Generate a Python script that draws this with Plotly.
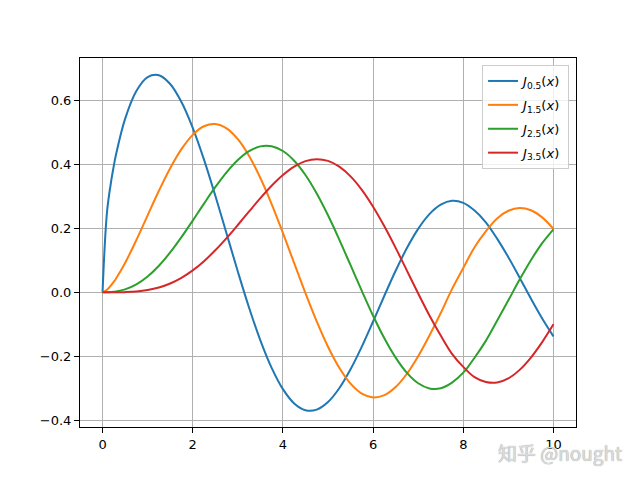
import plotly.graph_objects as go

x = [0, 0.1, 0.2, 0.25, 0.3, 0.5, 0.75, 1, 1.25, 1.5, 1.75, 2, 2.25, 2.5, 2.75, 3, 3.25, 3.5, 3.75, 4,
     4.25, 4.5, 4.75, 5, 5.25, 5.5, 5.75, 6, 6.25, 6.5, 6.75, 7, 7.25, 7.5, 7.75, 8, 8.25, 8.5, 8.75,
     9, 9.25, 9.5, 9.75, 10]

j05 = [0.0, 0.2518, 0.3545, 0.3948, 0.4305, 0.5410, 0.6280, 0.6714, 0.6772, 0.6498, 0.5935, 0.5130,
       0.4139, 0.3020, 0.1836, 0.0650, -0.0479, -0.1496, -0.2355, -0.3019, -0.3464, -0.3677, -0.3658,
       -0.3422, -0.2991, -0.2400, -0.1693, -0.0910, -0.0106, 0.0673, 0.1382, 0.1981, 0.2439, 0.2733,
       0.2854, 0.2791, 0.2551, 0.2185, 0.1675, 0.1096, 0.0456, -0.0195, -0.0815, -0.1373]
j15 = [0.0, 0.0084, 0.0237, 0.0330, 0.0433, 0.0917, 0.1632, 0.2403, 0.3168, 0.3871, 0.4466, 0.4913,
       0.5181, 0.5251, 0.5115, 0.4777, 0.4253, 0.3566, 0.2753, 0.1853, 0.0912, -0.0024, -0.0908,
       -0.1697, -0.2353, -0.2848, -0.3159, -0.3279, -0.3207, -0.2953, -0.2538, -0.1991, -0.1347,
       -0.0646, 0.0102, 0.0759, 0.1409, 0.1905, 0.2306, 0.2545, 0.2633, 0.2561, 0.2338, 0.1980]
j25 = [0.0, 0.0002, 0.0010, 0.0017, 0.0026, 0.0092, 0.0249, 0.0495, 0.0830, 0.1245, 0.1722, 0.2239,
       0.2769, 0.3281, 0.3744, 0.4127, 0.4404, 0.4553, 0.4557, 0.4409, 0.4107, 0.3661, 0.3085, 0.2404,
       0.1647, 0.0847, 0.0045, -0.0730, -0.1433, -0.2036, -0.2510, -0.2834, -0.2996, -0.2991, -0.2814,
       -0.2506, -0.2039, -0.1513, -0.0884, -0.0248, 0.0398, 0.1003, 0.1535, 0.1967]
j35 = [0.0, 0.0, 0.0, 0.0001, 0.0001, 0.0007, 0.0027, 0.0072, 0.0152, 0.0277, 0.0453, 0.0685, 0.0973,
       0.1311, 0.1692, 0.2101, 0.2523, 0.2938, 0.3324, 0.3658, 0.3921, 0.4092, 0.4155, 0.4100, 0.3921,
       0.3618, 0.3198, 0.2671, 0.2060, 0.1387, 0.0678, -0.0034, -0.0720, -0.1349, -0.1918, -0.2326,
       -0.2645, -0.2795, -0.2811, -0.2683, -0.2418, -0.2033, -0.1551, -0.0997]

names = ["<i>J</i><sub>0.5</sub>(<i>x</i>)", "<i>J</i><sub>1.5</sub>(<i>x</i>)",
         "<i>J</i><sub>2.5</sub>(<i>x</i>)", "<i>J</i><sub>3.5</sub>(<i>x</i>)"]
colors = ["#1f77b4", "#ff7f0e", "#2ca02c", "#d62728"]
series = [j05, j15, j25, j35]

fig = go.Figure()
for i, (ys, nm, col) in enumerate(zip(series, names, colors)):
    fig.add_trace(go.Scatter(x=x, y=ys, mode="lines", name=nm, legendgroup="g%d" % i,
                             line=dict(color=col, width=2, shape="spline", smoothing=1.0)))

axis_common = dict(showgrid=True, gridcolor="#b0b0b0", gridwidth=0.8, zeroline=False,
                   showline=True, linecolor="black", linewidth=1, mirror=True,
                   ticks="outside", ticklen=5, tickcolor="black",
                   tickfont=dict(family="DejaVu Sans", size=13, color="black"))

# page body adds an 8px offset; compensate so the plot area sits where the reference has it
fig.update_layout(
    width=632, height=472,
    margin=dict(l=72, r=64, t=50, b=53),
    paper_bgcolor="white", plot_bgcolor="white",
    font=dict(family="DejaVu Sans", size=13, color="black"),
    xaxis=dict(range=[-0.5, 10.5], tickvals=[0, 2, 4, 6, 8, 10], **axis_common),
    yaxis=dict(range=[-0.42, 0.731], tickvals=[-0.4, -0.2, 0.0, 0.2, 0.4, 0.6],
               ticktext=["\u22120.4", "\u22120.2", "0.0", "0.2", "0.4", "0.6"], **axis_common),
    legend=dict(x=0.986, y=0.981, xanchor="right", yanchor="top",
                bgcolor="rgba(255,255,255,0.8)", bordercolor="#cccccc", borderwidth=1,
                font=dict(family="DejaVu Sans", size=13), tracegroupgap=4, itemwidth=30),
    showlegend=True,
)

fig.add_annotation(text="知乎 @nought", x=1.0, y=0.0, xref="paper", yref="paper",
                   xanchor="right", yanchor="middle", xshift=48, yshift=-25, showarrow=False,
                   font=dict(family="Noto Sans CJK SC", size=19, color="#dcdcdc",
                             shadow="0px 0px 1px #8a8a8a"))

fig.write_html("out.html")
